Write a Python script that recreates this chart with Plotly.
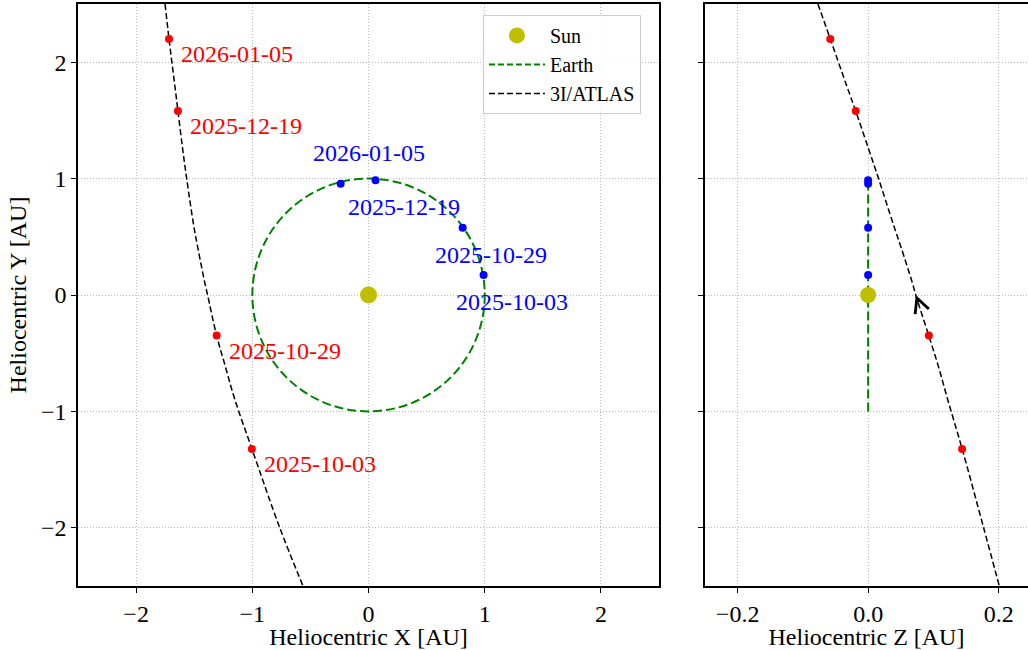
import plotly.graph_objects as go

# ---------------- data ----------------
DATES = ["2025-10-03", "2025-10-29", "2025-12-19", "2026-01-05"]

COMET_X = [-1.004, -1.307, -1.640, -1.717]
COMET_Y = [-1.323, -0.348, 1.580, 2.200]
COMET_Z = [0.144, 0.093, -0.019, -0.058]

EARTH_X = [0.990, 0.810, 0.060, -0.240]
EARTH_Y = [0.172, 0.578, 0.985, 0.956]
EARTH_Z = [0.0, 0.0, 0.0, 0.0]

TRAJ_Y = [2.5, 2.2, 1.8, 1.58, 1.25, 1.0, 0.6, 0.4, 0.1, 0.0, -0.35, -0.6, -0.9, -1.32, -2.0, -2.5]
TRAJ_X = [-1.751, -1.717, -1.667, -1.640, -1.599, -1.565, -1.505, -1.468, -1.408, -1.385,
          -1.307, -1.236, -1.150, -1.004, -0.764, -0.564]
TRAJ_Z = [-0.077, -0.058, -0.033, -0.019, 0.001, 0.016, 0.039, 0.051, 0.068, 0.073,
          0.093, 0.107, 0.122, 0.144, 0.177, 0.201]

SUN_X, SUN_Y, SUN_Z = 0.0, 0.0, 0.0
EARTH_ORBIT_RADIUS = 1.0

XY_TICKS = [-2, -1, 0, 1, 2]
Z_TICKS = [-0.2, 0.0, 0.2]

# ---------------- styles ----------------
FONT = "Liberation Serif"
SUN_COLOR = "#bfbf00"
EARTH_COLOR = "#008000"
RED = "#ff0000"
BLUE = "#0000ff"
# label offsets in pixels (xshift, yshift)
RED_OFFSETS = [(10, -15)] * 4
BLUE_OFFSETS = [(28, -27), (28, -27), (28, -27), (28, 31)]
ARROW_INDEX = TRAJ_Y.index(0.0)

fig = go.Figure()

# ---- left panel: X vs Y ----
fig.add_trace(go.Scatter(x=TRAJ_X, y=TRAJ_Y, mode="lines",
                         line=dict(color="black", width=1.5, dash="6px,3px", shape="spline"),
                         xaxis="x", yaxis="y", showlegend=False))
fig.add_trace(go.Scatter(x=COMET_X, y=COMET_Y, mode="markers",
                         marker=dict(color=RED, size=8), xaxis="x", yaxis="y", showlegend=False))
fig.add_trace(go.Scatter(x=EARTH_X, y=EARTH_Y, mode="markers",
                         marker=dict(color=BLUE, size=8), xaxis="x", yaxis="y", showlegend=False))
fig.add_trace(go.Scatter(x=[SUN_X], y=[SUN_Y], mode="markers", name="Sun",
                         marker=dict(color=SUN_COLOR, size=17), xaxis="x", yaxis="y"))
# legend entries for lines
fig.add_trace(go.Scatter(x=[None], y=[None], mode="lines", name="Earth",
                         line=dict(color=EARTH_COLOR, width=2, dash="6px,3px"), xaxis="x", yaxis="y"))
fig.add_trace(go.Scatter(x=[None], y=[None], mode="lines", name="3I/ATLAS",
                         line=dict(color="black", width=1.5, dash="6px,3px"), xaxis="x", yaxis="y"))

fig.add_shape(type="circle", xref="x", yref="y",
              x0=SUN_X - EARTH_ORBIT_RADIUS, x1=SUN_X + EARTH_ORBIT_RADIUS,
              y0=SUN_Y - EARTH_ORBIT_RADIUS, y1=SUN_Y + EARTH_ORBIT_RADIUS,
              line=dict(color=EARTH_COLOR, width=2, dash="9px,4px"), layer="between")

# ---- right panel: Z vs Y ----
fig.add_trace(go.Scatter(x=[SUN_Z, SUN_Z], y=[SUN_Y - EARTH_ORBIT_RADIUS, SUN_Y + EARTH_ORBIT_RADIUS],
                         mode="lines", line=dict(color=EARTH_COLOR, width=2, dash="9px,4px"),
                         xaxis="x2", yaxis="y2", showlegend=False))
fig.add_trace(go.Scatter(x=TRAJ_Z, y=TRAJ_Y, mode="lines",
                         line=dict(color="black", width=1.5, dash="6px,3px", shape="spline"),
                         xaxis="x2", yaxis="y2", showlegend=False))
fig.add_trace(go.Scatter(x=COMET_Z, y=COMET_Y, mode="markers",
                         marker=dict(color=RED, size=8), xaxis="x2", yaxis="y2", showlegend=False))
fig.add_trace(go.Scatter(x=EARTH_Z, y=EARTH_Y, mode="markers",
                         marker=dict(color=BLUE, size=8), xaxis="x2", yaxis="y2", showlegend=False))
fig.add_trace(go.Scatter(x=[SUN_Z], y=[SUN_Y], mode="markers",
                         marker=dict(color=SUN_COLOR, size=16), xaxis="x2", yaxis="y2", showlegend=False))

annotations = []
for d, x, y, (dx, dy) in zip(DATES, COMET_X, COMET_Y, RED_OFFSETS):
    annotations.append(dict(x=x, y=y, xref="x", yref="y", text=d, showarrow=False,
                            xanchor="left", yanchor="middle", xshift=dx, yshift=dy,
                            font=dict(family=FONT, size=24, color=RED)))
for d, x, y, (dx, dy) in zip(DATES, EARTH_X, EARTH_Y, BLUE_OFFSETS):
    annotations.append(dict(x=x, y=y, xref="x", yref="y", text=d, showarrow=False,
                            xanchor="center", yanchor="middle", xshift=dx, yshift=dy,
                            font=dict(family=FONT, size=24, color=BLUE)))
annotations.append(dict(x=TRAJ_Z[ARROW_INDEX], y=TRAJ_Y[ARROW_INDEX], xref="x2", yref="y2",
                        text="", showarrow=True, arrowhead=5, arrowsize=2.2, arrowwidth=1.3,
                        arrowcolor="black", ax=3, ay=8))

axis_common = dict(showline=True, linecolor="black", linewidth=1.5,
                   ticks="outside", ticklen=5, tickwidth=1.2, tickcolor="black",
                   showgrid=True, gridcolor="#b8b8b8", gridwidth=1, griddash="1px,2px",
                   zeroline=False, tickfont=dict(family=FONT, size=24, color="black"),
                   title_font=dict(family=FONT, size=24, color="black"))

fig.update_layout(
    width=1028, height=650,
    margin=dict(l=0, r=0, t=0, b=0),
    paper_bgcolor="white", plot_bgcolor="white",
    font=dict(family=FONT, color="black"),
    xaxis=dict(domain=[0.0759, 0.6411], range=[-2.5, 2.5], tickvals=XY_TICKS, mirror=True,
               anchor="y", title=dict(text="Heliocentric X [AU]", standoff=0), **axis_common),
    yaxis=dict(domain=[0.0985, 0.9938], range=[-2.5, 2.5], tickvals=XY_TICKS, mirror=True,
               anchor="x", title=dict(text="Heliocentric Y [AU]", standoff=8), **axis_common),
    xaxis2=dict(domain=[0.6858, 1.0], range=[-0.25, 0.245], tickvals=Z_TICKS, tickformat=".1f",
                mirror=True, anchor="y2", title=dict(text="Heliocentric Z [AU]", standoff=0),
                **axis_common),
    yaxis2=dict(domain=[0.0985, 0.9938], range=[-2.5, 2.5], tickvals=XY_TICKS, matches="y",
                showticklabels=False, mirror=False, anchor="x2", **axis_common),
    legend=dict(x=0.4698, y=0.977, xanchor="left", yanchor="top",
                bgcolor="rgba(255,255,255,0.85)", bordercolor="#cccccc", borderwidth=1,
                itemwidth=56,
                font=dict(family=FONT, size=20, color="black")),
    annotations=annotations,
)

fig.write_html("out.html", config={"displayModeBar": False},
               post_script="document.body.style.margin='0';")
